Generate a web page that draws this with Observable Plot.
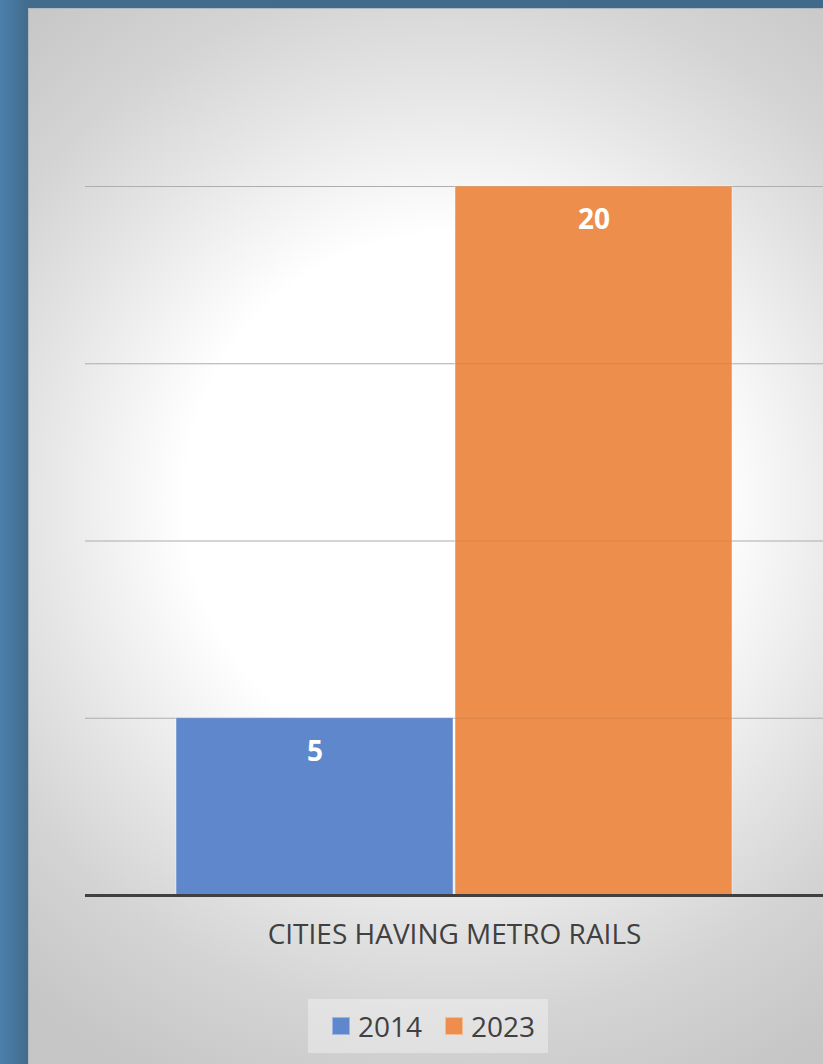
<!DOCTYPE html>
<html>
<head>
<meta charset="utf-8">
<script src="https://cdn.jsdelivr.net/npm/d3@7"></script>
<script src="https://cdn.jsdelivr.net/npm/@observablehq/plot@0.6"></script>
<style>
  html, body { margin: 0; padding: 0; }
  body { width: 823px; height: 1064px; overflow: hidden; }
  #page {
    position: relative; width: 823px; height: 1064px; overflow: hidden;
    background: linear-gradient(90deg, #4b80ab 0px, #426b8c 28px, #416a8a 100%);
  }
  #panel {
    position: absolute; left: 29px; top: 9px; width: 820px; height: 1080px;
    background: radial-gradient(circle at 421px 491px, #ffffff 0px, #ffffff 265px, #e4e4e4 420px, #d4d4d4 520px, #c6c6c6 650px, #c3c3c3 900px);
    box-shadow: -1px -1px 0 #b0b8c0;
  }
  #chart { position: absolute; left: 0; top: 0; }
  #legend {
    position: absolute; left: 308px; top: 999px; width: 240px; height: 54px;
    background: rgba(255,255,255,0.35);
    font-family: 'Open Sans', sans-serif; font-size: 28px; color: #404040;
  }
  .item { position: absolute; top: 0; height: 54px; display: flex; align-items: center; white-space: nowrap; }
  .sw { width: 18px; height: 18px; margin-right: 8px; box-shadow: inset 0 0 0 1px rgba(255,255,255,0.4); }
</style>
</head>
<body>
<div id="page">
  <div id="panel"></div>
  <div id="chart"></div>
  <div id="legend"></div>
</div>
<script>
const categories = ["CITIES HAVING METRO RAILS"];
const years = ["2014", "2023"];
const values = [5, 20];
const colors = ["#5f87cb", "#ed8e4d"];
const gridTicks = [5, 10, 15, 20];

const data = years.map((y, i) => ({category: categories[0], year: y, value: values[i]}));

const chart = Plot.plot({
  width: 823,
  height: 990,
  marginLeft: 85,
  marginRight: 0,
  marginTop: 186,
  marginBottom: 95,
  style: {background: "transparent", fontFamily: "'Open Sans', sans-serif"},
  fx: {domain: categories, padding: 0, label: null},
  x: {domain: years, paddingInner: 0.0072, paddingOuter: 0.326, axis: null},
  y: {domain: [0, 20], axis: null},
  color: {domain: years, range: colors},
  marks: [
    Plot.ruleY(gridTicks, {stroke: "#bcbcbc", strokeWidth: 1.2}),
    Plot.barY(data, {fx: "category", x: "year", y: "value", fill: "year", stroke: "#ffffff", strokeOpacity: 0.45, strokeWidth: 1}),
    Plot.ruleY(gridTicks, {stroke: "#000000", strokeOpacity: 0.07, strokeWidth: 1.2}),
    Plot.text(data, {fx: "category", x: "year", y: "value", text: d => String(d.value), dy: 34, fill: "white", fontWeight: "bold", fontSize: 28, lineAnchor: "middle"}),
    Plot.ruleY([0], {stroke: "#404040", strokeWidth: 3}),
    Plot.axisFx({anchor: "bottom", tickSize: 0, tickPadding: 29, fontSize: 28, fill: "#404040", label: null})
  ]
});
document.getElementById("chart").appendChild(chart);

// Legend built from the same arrays
const legendEl = document.getElementById("legend");
const itemLeft = [24, 137];
years.forEach((y, i) => {
  const item = document.createElement("div");
  item.className = "item";
  item.style.left = itemLeft[i] + "px";
  const sw = document.createElement("div");
  sw.className = "sw";
  sw.style.background = colors[i];
  const label = document.createElement("span");
  label.textContent = y;
  item.appendChild(sw);
  item.appendChild(label);
  legendEl.appendChild(item);
});
</script>
</body>
</html>
